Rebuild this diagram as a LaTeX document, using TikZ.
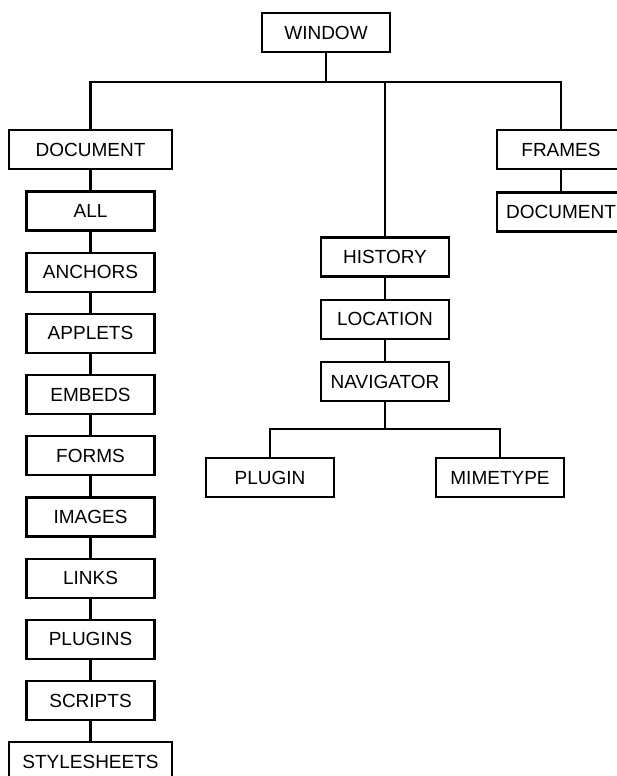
\documentclass[tikz,border=0pt]{standalone}
\usepackage{fontspec}
\setmainfont{Liberation Sans}
\usetikzlibrary{positioning}

\begin{document}
\begin{tikzpicture}[x=1pt, y=-1pt,
  box/.style={draw, line width=2.2pt, minimum width=128pt, minimum height=39pt, inner sep=0pt, font=\fontsize{19}{21}\selectfont},
  widebox/.style={box, minimum width=163pt},
  link/.style={line width=2.2pt}]

\clip (0,0) rectangle (617,776);

%top node
\node[box] (window) at (326,32.5) {WINDOW};
\coordinate (bus) at (0,82);

%left branch
\node[widebox] (document) at (90.5,149.5) {DOCUMENT};
\foreach \name [count=\i from 0] in {ALL,ANCHORS,APPLETS,EMBEDS,FORMS,IMAGES,LINKS,PLUGINS,SCRIPTS}
  \node[box] (left\i) at (90.5,211+61.2*\i) {\name};
\node[widebox] (left9) at (90.5,211+61.2*9) {STYLESHEETS};

%middle branch
\node[box] (history) at (385,257) {HISTORY};
\node[box] (location) at (385,319.3) {LOCATION};
\node[box] (navigator) at (385,381.6) {NAVIGATOR};
\coordinate (navbus) at (0,429);
\node[box] (plugin) at (270,477.5) {PLUGIN};
\node[box] (mimetype) at (500,477.5) {MIMETYPE};

%right branch
\node[box] (frames) at (561,149.5) {FRAMES};
\node[box] (framedoc) at (561,212) {DOCUMENT};

%connectors
\draw[link] (window.south) -- (window.south |- bus) -| (document.north);
\draw[link] (window.south |- bus) -| (history.north);
\draw[link] (window.south |- bus) -| (frames.north);
\draw[link] (frames.south) -- (framedoc.north);

\draw[link] (document.south) -- (left0.north);
\foreach \i [evaluate=\i as \j using int(\i+1)] in {0,...,8}
  \draw[link] (left\i.south) -- (left\j.north);

\draw[link] (history.south) -- (location.north);
\draw[link] (location.south) -- (navigator.north);
\draw[link] (navigator.south) -- (navigator.south |- navbus) -| (plugin.north);
\draw[link] (navigator.south |- navbus) -| (mimetype.north);

\end{tikzpicture}
\end{document}
